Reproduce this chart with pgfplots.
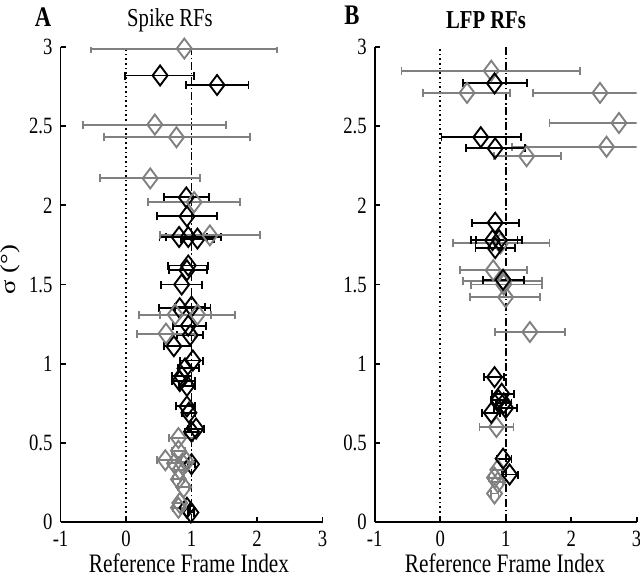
\documentclass[border=0pt]{standalone}
\usepackage{graphicx}
\usepackage{pgfplots}
\pgfplotsset{compat=1.18}
\usepackage{pgfplotstable}
\usepackage{fontspec}
\setmainfont{Liberation Serif}
\newfontfamily\tnr{Liberation Serif}
\definecolor{dgray}{RGB}{128,128,128}
\newcommand{\vs}[1]{\scalebox{1}[1.25]{#1}}

% x y em ep
\pgfplotstableread{
x y em ep
0.52 2.82 0.54 0.52
1.39 2.76 0.47 0.48
0.92 2.05 0.34 0.35
0.93 1.93 0.46 0.46
0.81 1.80 0.30 0.43
0.95 1.80 0.34 0.50
1.09 1.79 0.25 0.25
0.95 1.62 0.31 0.30
0.93 1.59 0.28 0.30
0.85 1.50 0.31 0.31
0.82 1.35 0.32 0.47
1.00 1.36 0.25 0.20
0.95 1.24 0.23 0.27
0.98 1.18 0.20 0.20
0.73 1.11 0.15 0.27
1.02 1.02 0.20 0.16
0.90 0.97 0.11 0.22
0.85 0.92 0.15 0.15
0.82 0.89 0.12 0.23
0.93 0.86 0.12 0.12
0.93 0.73 0.17 0.12
0.96 0.69 0.10 0.10
1.07 0.59 0.12 0.12
1.00 0.57 0.10 0.10
1.00 0.365 0.05 0.05
0.93 0.09 0.05 0.05
0.99 0.06 0.05 0.05
}\spikeblack

\pgfplotstableread{
x y em ep
0.89 2.99 1.42 1.42
0.44 2.51 1.10 1.09
0.77 2.43 1.10 1.12
0.37 2.17 0.77 0.76
1.04 2.02 0.70 0.70
1.28 1.81 0.76 0.77
0.75 1.31 0.55 0.55
1.09 1.31 0.57 0.57
0.61 1.19 0.44 0.44
0.80 0.53 0.14 0.23
0.80 0.45 0.10 0.10
0.60 0.39 0.13 0.20
0.74 0.37 0.10 0.10
0.86 0.37 0.10 0.10
0.92 0.38 0.08 0.08
0.82 0.33 0.08 0.08
0.80 0.27 0.08 0.08
0.88 0.22 0.08 0.08
0.82 0.12 0.08 0.08
0.80 0.09 0.08 0.08
}\spikegray

\pgfplotstableread{
x y em ep
0.83 2.77 0.48 0.50
0.62 2.43 0.60 0.61
0.84 2.36 0.44 0.45
0.84 1.89 0.35 0.37
0.80 1.78 0.33 0.45
0.90 1.78 0.35 0.28
0.84 1.73 0.30 0.30
0.96 1.53 0.31 0.32
0.83 0.915 0.16 0.15
0.94 0.81 0.15 0.19
0.89 0.77 0.12 0.12
0.97 0.75 0.12 0.12
1.00 0.72 0.18 0.17
0.78 0.69 0.14 0.14
0.96 0.40 0.10 0.13
1.06 0.30 0.11 0.13
}\lfpblack

\pgfplotstableread{
x y em ep
0.78 2.85 1.37 1.36
0.41 2.71 0.67 0.66
2.44 2.71 1.02 1.02
2.73 2.52 1.06 1.06
2.54 2.37 1.44 1.44
1.32 2.31 0.50 0.52
0.92 1.76 0.73 0.75
0.81 1.59 0.51 0.51
0.97 1.52 0.62 0.58
0.97 1.50 0.50 0.58
1.00 1.42 0.54 0.53
1.37 1.20 0.53 0.53
0.86 0.60 0.26 0.26
0.88 0.33 0.08 0.08
0.83 0.28 0.08 0.08
0.88 0.25 0.08 0.08
0.83 0.18 0.06 0.06
}\lfpgray

\pgfplotsset{
  panel/.style={
    scale only axis,
    width=196.5pt, height=356.25pt,
    xmin=-1, xmax=3, ymin=0, ymax=3,
    axis lines=left,
    axis line style={-, line width=1.3pt},
    tick style={line width=1.3pt, black},
    major tick length=4pt,
    tick align=inside,
    xtick={-1,0,1,2,3},
    ytick={0,0.5,1,1.5,2,2.5,3},
    /pgf/number format/assume math mode=true,
    ticklabel style={font=\tnr\fontsize{14}{16}\selectfont},
    xticklabel={\vs{\pgfmathprintnumber{\tick}}},
    yticklabel={\vs{\pgfmathprintnumber{\tick}}},
    yticklabel style={xshift=-2.5pt},
    xticklabel style={yshift=-3pt},
  },
  pts/.style={
    only marks, mark=diamond, mark size=7.5pt,
    mark options={line width=1.4pt, fill=none},
    line width=1.4pt,
    error bars/.cd, x dir=both, x explicit,
    error mark=|,
    error bar style={line width=1.4pt},
    error mark options={mark size=3pt, line width=1.4pt},
  },
}

\begin{document}
\begin{tikzpicture}[font=\tnr]
\path[use as bounding box] (0,0) rectangle (480pt,-433.5pt);

\begin{axis}[panel, at={(45.4pt,-391.5pt)}, anchor=south west]
\addplot[black, line width=1.3pt, dash pattern=on 1.3pt off 2.2pt] coordinates {(0,0) (0,3)};
\addplot[black, line width=1.4pt, dash pattern=on 6pt off 2pt on 1.3pt off 2pt] coordinates {(1,0) (1,3)};
\addplot[black, pts] table[x=x, y=y, x error minus=em, x error plus=ep] {\spikeblack};
\addplot[dgray, pts] table[x=x, y=y, x error minus=em, x error plus=ep] {\spikegray};
\end{axis}

\begin{axis}[panel, at={(281pt,-391.5pt)}, anchor=south west]
\addplot[black, line width=1.3pt, dash pattern=on 1.3pt off 2.2pt] coordinates {(0,0) (0,3)};
\addplot[black, line width=1.7pt, dash pattern=on 6pt off 2pt on 1.3pt off 2pt] coordinates {(1,0) (1,3)};
\addplot[dgray, pts] table[x=x, y=y, x error minus=em, x error plus=ep] {\lfpgray};
\addplot[black, pts] table[x=x, y=y, x error minus=em, x error plus=ep] {\lfpblack};
\end{axis}

\node[font=\tnr\fontsize{17}{19}\selectfont\bfseries] at (32.25pt,-12.5pt) {\vs{A}};
\node[font=\tnr\fontsize{15.5}{18}\selectfont] at (127.5pt,-15pt) {\vs{Spike RFs}};
\node[font=\tnr\fontsize{17}{19}\selectfont\bfseries] at (264pt,-11.5pt) {\vs{B}};
\node[font=\tnr\fontsize{15.5}{18}\selectfont\bfseries] at (364.5pt,-15pt) {\vs{LFP RFs}};
\node[font=\tnr\fontsize{16}{18}\selectfont, rotate=90] at (8pt,-202pt) {\scalebox{1.25}[1]{σ (°)}};
\node[font=\tnr\fontsize{16}{18}\selectfont] at (141.75pt,-422.25pt) {\vs{Reference Frame Index}};
\node[font=\tnr\fontsize{16}{18}\selectfont] at (378.75pt,-422.25pt) {\vs{Reference Frame Index}};
\end{tikzpicture}
\end{document}
